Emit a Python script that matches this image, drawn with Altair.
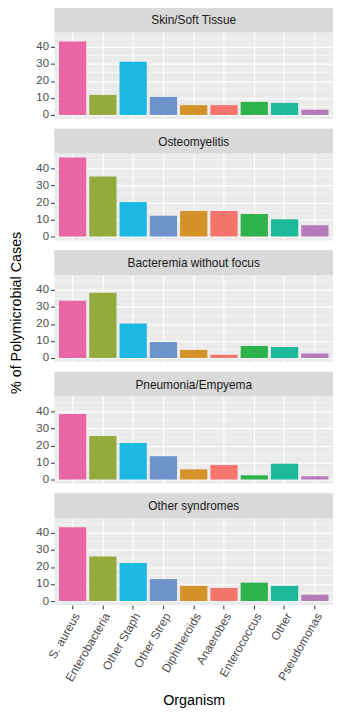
import altair as alt
import pandas as pd

organisms = ["S. aureus", "Enterobacteria", "Other Staph", "Other Strep",
             "Diphtheroids", "Anaerobes", "Enterococcus", "Other", "Pseudomonas"]
syndromes = ["Skin/Soft Tissue", "Osteomyelitis", "Bacteremia without focus",
             "Pneumonia/Empyema", "Other syndromes"]
skin = [43.1, 11.8, 31.3, 10.6, 5.8, 5.8, 7.7, 7.1, 3.1]
osteo = [46.4, 35.3, 20.2, 12.2, 15.0, 15.0, 13.2, 10.1, 6.6]
bact = [33.7, 38.3, 20.2, 9.4, 4.8, 1.9, 7.1, 6.5, 2.7]
pneu = [38.5, 25.5, 21.4, 13.7, 6.0, 8.5, 2.5, 9.3, 1.9]
other = [43.3, 26.1, 22.4, 12.9, 8.9, 7.7, 10.8, 8.9, 3.7]
colors = ["#E966A4", "#93AA3C", "#1CB8E4", "#6E93CC", "#D4922A",
          "#F3756E", "#2EB24C", "#1CB99B", "#B57BB9"]
y_ticks = [0, 10, 20, 30, 40]
y_minor = [5, 15, 25, 35, 45]
y_title = "% of Polymicrobial Cases"

series = [skin, osteo, bact, pneu, other]

W = 282
H = 88
STRIP = 25
GAP = 8
FONT = "Liberation Sans"
ydomain = [-2.32, 48.72]

panels = []
for i, (syn, vals) in enumerate(zip(syndromes, series)):
    df = pd.DataFrame({"organism": organisms, "value": vals})
    strip_df = pd.DataFrame({"label": [syn]})
    rect = alt.Chart(strip_df).mark_rect(color="#D9D9D9").encode(
        x=alt.value(0), x2=alt.value(W), y=alt.value(0), y2=alt.value(STRIP)
    )
    txt = alt.Chart(strip_df).mark_text(
        font=FONT, fontSize=12, color="#1A1A1A", baseline="middle", align="center"
    ).encode(x=alt.value(W / 2), y=alt.value(STRIP / 2 + 0.5), text="label:N")
    strip = alt.layer(rect, txt).properties(width=W, height=STRIP)

    last = i == len(syndromes) - 1
    if last:
        xaxis = alt.Axis(
            title="Organism", labelAngle=-60, labelAlign="right", labelBaseline="top",
            labelFontSize=12, labelColor="#4D4D4D", labelFont=FONT,
            titleFont=FONT, titleFontSize=14.5, titleFontWeight="normal", titleColor="#000000",
            titlePadding=11, tickColor="#333333", tickSize=4, labelPadding=2,
            domain=False, grid=True, gridColor="white", gridWidth=1.1, bandPosition=0.5,
        )
    else:
        xaxis = alt.Axis(
            title=None, labels=False, ticks=False, domain=False, grid=True,
            gridColor="white", gridWidth=1.1, bandPosition=0.5,
        )
    yaxis = alt.Axis(
        values=y_ticks, title=None,
        labelFont=FONT, labelFontSize=11.5, labelColor="#4D4D4D",
        tickColor="#333333", tickSize=4, labelPadding=2, domain=False,
        grid=True, gridColor="white", gridWidth=1.1,
    )
    yscale = alt.Scale(domain=ydomain, nice=False, zero=False)

    minor = alt.Chart(pd.DataFrame({"m": y_minor})).mark_rule(
        color="white", strokeWidth=0.5
    ).encode(y=alt.Y("m:Q", scale=yscale, axis=yaxis))

    bars = alt.Chart(df).mark_bar().encode(
        x=alt.X("organism:N", sort=organisms,
                scale=alt.Scale(domain=organisms, paddingInner=0.1, paddingOuter=0.15),
                axis=xaxis),
        y=alt.Y("value:Q", scale=yscale, axis=yaxis),
        color=alt.Color("organism:N", scale=alt.Scale(domain=organisms, range=colors),
                        legend=None),
    )
    plot = alt.layer(minor, bars).properties(width=W, height=H)
    panels.append(alt.vconcat(strip, plot, spacing=0))

chart = alt.vconcat(*panels, spacing=GAP).properties(
    padding={"left": 0, "top": -5, "right": 0, "bottom": 0},
    title=alt.TitleParams(
        y_title, orient="left", anchor="middle", font=FONT, fontSize=14.5,
        fontWeight="normal", color="#000000", offset=12, dx=45,
    ),
).configure_view(fill="#EBEBEB", strokeWidth=0)

chart.save("out.html", embed_options={"renderer": "svg", "actions": False})
